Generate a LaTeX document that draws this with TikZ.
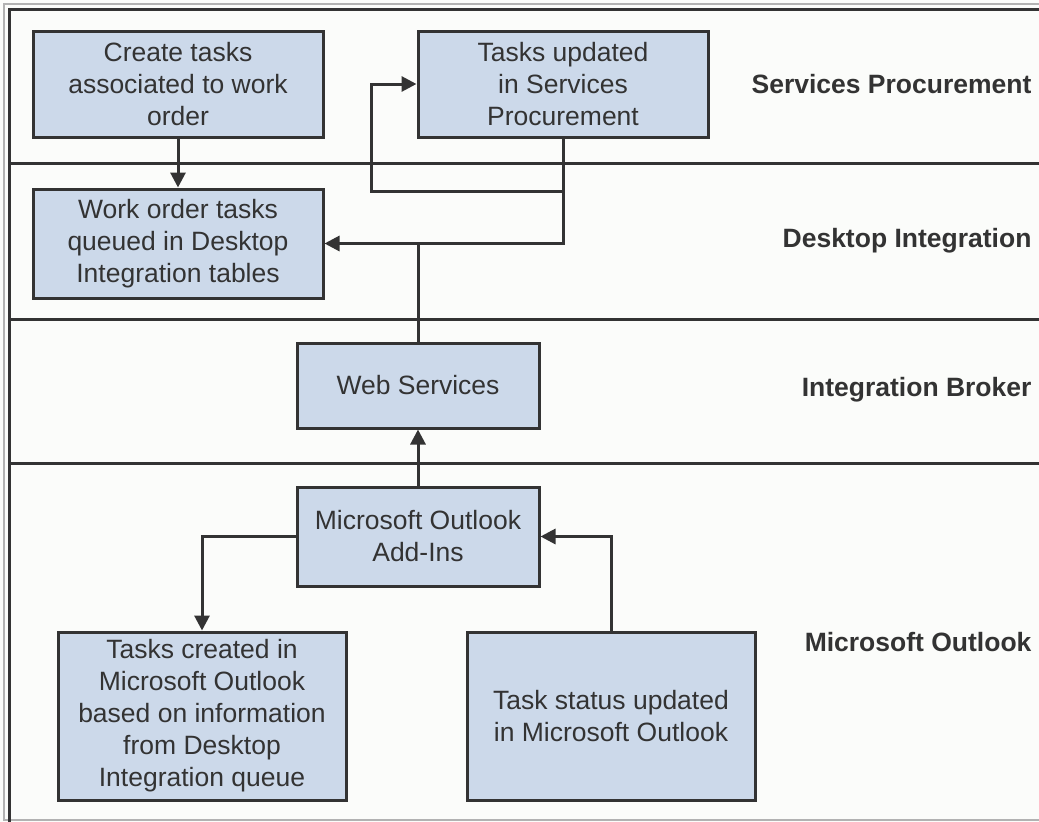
\documentclass[tikz,border=0pt]{standalone}
\usepackage{fontspec}
\setmainfont{Liberation Sans}
\usetikzlibrary{arrows.meta}
\definecolor{boxfill}{HTML}{CCD9EA}
\definecolor{inkgray}{HTML}{333333}
\definecolor{paper}{HTML}{FBFCFA}
\begin{document}
\begin{tikzpicture}[x=1pt, y=-1pt,
  task/.style={draw=inkgray, line width=3pt, fill=boxfill, text=inkgray,
    align=center, inner sep=0pt, font=\fontsize{26.5}{32}\selectfont},
  flow/.style={draw=inkgray, line width=3pt, -{Triangle[length=15pt,width=15pt]}},
  lane/.style={draw=inkgray, line width=3pt},
  lanename/.style={anchor=east, text=inkgray, font=\fontsize{26.5}{32}\selectfont\bfseries}]

\useasboundingbox (0,0) rectangle (1039,822);
\fill[paper] (0,0) rectangle (1039,822);

% frame
\draw[gray!60, line width=2pt] (4,4) rectangle (1045,820);
\draw[inkgray, line width=3pt] (1045,9) -- (9,9) -- (9,822);

% lanes
\draw[lane] (9,163) -- (1039,163);
\draw[lane] (9,319) -- (1039,319);
\draw[lane] (9,463) -- (1039,463);

\node[lanename] (sp) at (1035,84) {Services Procurement};
\node[lanename] (di) at (1035,241) {Desktop Integration};
\node[lanename] (ib) at (1035,390) {Integration Broker};
\node[lanename] (mo) at (1035,642) {Microsoft Outlook};

% tasks
\node[task, minimum width=290pt, minimum height=106pt] (create) at (178,84)
  {Create tasks\\associated to work\\order};
\node[task, minimum width=290pt, minimum height=106pt] (updated) at (563,84)
  {Tasks updated\\in Services\\Procurement};
\node[task, minimum width=290pt, minimum height=109pt] (queued) at (178,243.5)
  {Work order tasks\\queued in Desktop\\Integration tables};
\node[task, minimum width=242pt, minimum height=85pt] (websvc) at (418,385.5)
  {Web Services};
\node[task, minimum width=242pt, minimum height=99pt] (addins) at (418,536.5)
  {Microsoft Outlook\\Add-Ins};
\node[task, minimum width=288pt, minimum height=168pt] (created) at (202,716)
  {Tasks created in\\Microsoft Outlook\\based on information\\from Desktop\\Integration queue};
\node[task, minimum width=288pt, minimum height=168pt] (status) at (611,716)
  {Task status updated\\in Microsoft Outlook};

% connectors
\coordinate (loop) at (371,191);
\draw[flow] (create) -- (queued);
\draw[flow] (updated.south) |- (queued.east);
\draw[flow] (updated.south |- loop) -- (loop) |- (updated.west);
\draw[lane] (websvc.north) -- (websvc.north |- queued.east);
\draw[flow] (addins) -- (websvc);
\draw[flow] (addins.west) -| (created.north);
\draw[flow] (status.north) |- (addins.east);

\end{tikzpicture}
\end{document}
